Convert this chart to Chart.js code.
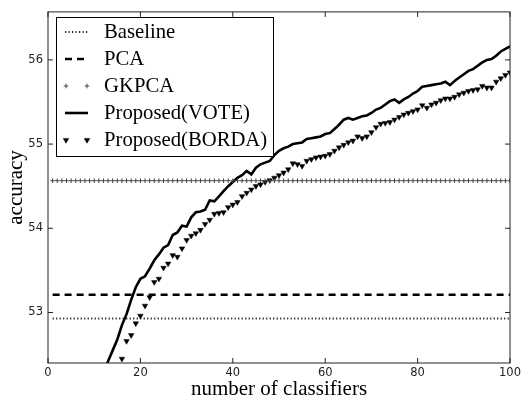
<!DOCTYPE html>
<html>
<head>
<meta charset="utf-8">
<script src="https://cdn.jsdelivr.net/npm/chart.js@4.4.1/dist/chart.umd.min.js"></script>
<style>
  body { margin: 0; background: #fff; }
  #wrap { width: 524px; height: 402px; }
</style>
</head>
<body>
<div id="wrap"><canvas id="grafico" width="524" height="402"></canvas></div>
<script>
// number of classifiers 1..100 (x categories)
const numClasificadores = Array.from({ length: 100 }, (_, i) => i + 1);

const ticksX = [0, 20, 40, 60, 80, 100];
const ticksY = [53, 54, 55, 56];

// constant references
const accBaseline = 52.93;
const accPCA = 53.21;
const accGKPCA = 54.565;

// Proposed(VOTE), x = 1..100 (the first dozen sit below the visible range)
const accVote = [
  50.70, 50.85, 51.00, 51.15, 51.30, 51.45, 51.60, 51.75, 51.90, 52.04,
  52.17, 52.30, 52.42, 52.55, 52.68, 52.85, 52.98, 53.15, 53.30, 53.40,
  53.43, 53.52, 53.62, 53.69, 53.77, 53.80, 53.92, 53.95, 54.03, 54.02,
  54.13, 54.19, 54.20, 54.22, 54.33, 54.32, 54.38, 54.44, 54.50, 54.55,
  54.60, 54.63, 54.68, 54.64, 54.72, 54.76, 54.78, 54.80, 54.87, 54.92,
  54.95, 54.97, 55.00, 55.01, 55.02, 55.06, 55.07, 55.08, 55.09, 55.12,
  55.13, 55.18, 55.23, 55.29, 55.31, 55.29, 55.31, 55.33, 55.34, 55.37,
  55.41, 55.43, 55.47, 55.51, 55.53, 55.49, 55.53, 55.56, 55.60, 55.63,
  55.68, 55.69, 55.70, 55.71, 55.72, 55.74, 55.70, 55.75, 55.79, 55.83,
  55.87, 55.89, 55.93, 55.97, 56.00, 56.01, 56.05, 56.10, 56.13, 56.16
];

// Proposed(BORDA), x = 1..100
const accBorda = [
  50.40, 50.55, 50.70, 50.85, 51.00, 51.15, 51.30, 51.45, 51.60, 51.75,
  51.88, 52.00, 52.10, 52.20, 52.32, 52.45, 52.66, 52.73, 52.87, 52.96,
  53.08, 53.18, 53.36, 53.40, 53.53, 53.58, 53.68, 53.66, 53.76, 53.86,
  53.91, 53.94, 53.98, 54.05, 54.10, 54.17, 54.18, 54.19, 54.25, 54.28,
  54.31, 54.38, 54.42, 54.46, 54.50, 54.52, 54.55, 54.57, 54.60, 54.63,
  54.66, 54.70, 54.77, 54.76, 54.74, 54.80, 54.82, 54.84, 54.85, 54.86,
  54.88, 54.92, 54.96, 54.99, 55.02, 55.04, 55.09, 55.07, 55.09, 55.14,
  55.20, 55.24, 55.25, 55.26, 55.29, 55.32, 55.35, 55.37, 55.39, 55.41,
  55.46, 55.43, 55.47, 55.49, 55.52, 55.54, 55.54, 55.56, 55.59, 55.61,
  55.63, 55.64, 55.65, 55.69, 55.67, 55.67, 55.74, 55.78, 55.82, 55.85
];

const aPuntos = (ys) => numClasificadores.map((x, i) => ({ x, y: ys[i] }));
const constante = (v) => numClasificadores.map((x) => ({ x, y: v }));

const serif = "'Liberation Serif', 'Times New Roman', serif";
const sans = "'DejaVu Sans', sans-serif";

// axes frame + inward ticks on all four sides (old matplotlib look)
const marcoEjes = {
  id: "marcoEjes",
  afterDatasetsDraw(chart) {
    const { ctx, chartArea: a, scales } = chart;
    ctx.save();
    ctx.strokeStyle = "#222";
    ctx.lineWidth = 1;
    ctx.strokeRect(a.left, a.top, a.right - a.left, a.bottom - a.top);
    ctx.beginPath();
    ticksX.forEach((v) => {
      const px = scales.x.getPixelForValue(v);
      ctx.moveTo(px, a.bottom); ctx.lineTo(px, a.bottom - 5);
      ctx.moveTo(px, a.top); ctx.lineTo(px, a.top + 5);
    });
    ticksY.forEach((v) => {
      const py = scales.y.getPixelForValue(v);
      ctx.moveTo(a.left, py); ctx.lineTo(a.left + 5, py);
      ctx.moveTo(a.right, py); ctx.lineTo(a.right - 5, py);
    });
    ctx.stroke();
    ctx.restore();
  },
};

// legend box in the upper left corner of the plot
const leyendaInterna = {
  id: "leyendaInterna",
  afterDraw(chart) {
    const { ctx } = chart;
    const box = { x: 56, y: 17, w: 217, h: 139 };
    ctx.save();
    ctx.fillStyle = "#fff";
    ctx.fillRect(box.x, box.y, box.w, box.h);
    ctx.strokeStyle = "#000";
    ctx.lineWidth = 1;
    ctx.strokeRect(box.x + 0.5, box.y + 0.5, box.w, box.h);

    chart.data.datasets.forEach((ds, i) => {
      const yc = 32 + i * 27;
      if (ds.showLine !== false) {
        ctx.beginPath();
        ctx.strokeStyle = ds.borderColor;
        ctx.lineWidth = ds.borderWidth;
        ctx.setLineDash(ds.borderDash || []);
        ctx.moveTo(65, yc);
        ctx.lineTo(88, yc);
        ctx.stroke();
        ctx.setLineDash([]);
      }
      if (ds.pointRadius > 0) {
        ctx.fillStyle = ds.pointBackgroundColor;
        ctx.strokeStyle = ds.pointBorderColor;
        ctx.lineWidth = ds.pointBorderWidth;
        [66, 87].forEach((px) => {
          Chart.helpers.drawPoint(ctx, {
            pointStyle: ds.pointStyle,
            rotation: ds.pointRotation || 0,
            radius: ds.pointRadius,
            borderWidth: ds.pointBorderWidth,
          }, px, yc);
        });
      }
      ctx.fillStyle = "#000";
      ctx.font = "20.7px " + serif;
      ctx.textBaseline = "middle";
      ctx.fillText(ds.label, 104, yc + 1);
    });
    ctx.restore();
  },
};

new Chart(document.getElementById("grafico"), {
  type: "line",
  data: {
    datasets: [
      {
        label: "Baseline",
        data: constante(accBaseline),
        borderColor: "#222",
        borderWidth: 2,
        borderDash: [1.2, 2.3],
        pointRadius: 0,
      },
      {
        label: "PCA",
        data: constante(accPCA),
        borderColor: "#000",
        borderWidth: 2.5,
        borderDash: [7, 5],
        pointRadius: 0,
      },
      {
        label: "GKPCA",
        data: constante(accGKPCA),
        showLine: false,
        pointStyle: "cross",
        pointRadius: 2.3,
        pointBorderWidth: 1,
        pointBorderColor: "#444",
        pointBackgroundColor: "#444",
      },
      {
        label: "Proposed(VOTE)",
        data: aPuntos(accVote),
        borderColor: "#000",
        borderWidth: 2.6,
        pointRadius: 0,
      },
      {
        label: "Proposed(BORDA)",
        data: aPuntos(accBorda),
        showLine: false,
        pointStyle: "triangle",
        pointRotation: 180,
        pointRadius: 3.2,
        pointBorderWidth: 0.5,
        pointBorderColor: "#000",
        pointBackgroundColor: "#000",
      },
    ],
  },
  options: {
    responsive: false,
    animation: false,
    layout: { padding: { top: 10, right: 11, left: 0, bottom: 0 } },
    plugins: { legend: { display: false }, tooltip: { enabled: false } },
    scales: {
      x: {
        type: "linear",
        min: 0,
        max: 100,
        afterBuildTicks: (s) => { s.ticks = ticksX.map((v) => ({ value: v })); },
        afterFit: (s) => { s.height = 39; },
        grid: { display: false, drawTicks: false },
        border: { display: false },
        ticks: { padding: 3, color: "#222", font: { family: sans, size: 11.5 }, maxRotation: 0 },
        title: {
          display: true,
          text: "number of classifiers",
          color: "#000",
          font: { family: serif, size: 21 },
          padding: { top: 0, bottom: 0 },
        },
      },
      y: {
        min: 52.4,
        max: 56.57,
        afterBuildTicks: (s) => { s.ticks = ticksY.map((v) => ({ value: v })); },
        afterFit: (s) => { s.width = 48; },
        grid: { display: false, drawTicks: false },
        border: { display: false },
        ticks: { padding: 5, color: "#222", font: { family: sans, size: 11.5 } },
        title: {
          display: true,
          text: "accuracy",
          color: "#000",
          font: { family: serif, size: 21 },
          padding: { top: 4, bottom: 0 },
        },
      },
    },
  },
  plugins: [marcoEjes, leyendaInterna],
});
</script>
</body>
</html>
